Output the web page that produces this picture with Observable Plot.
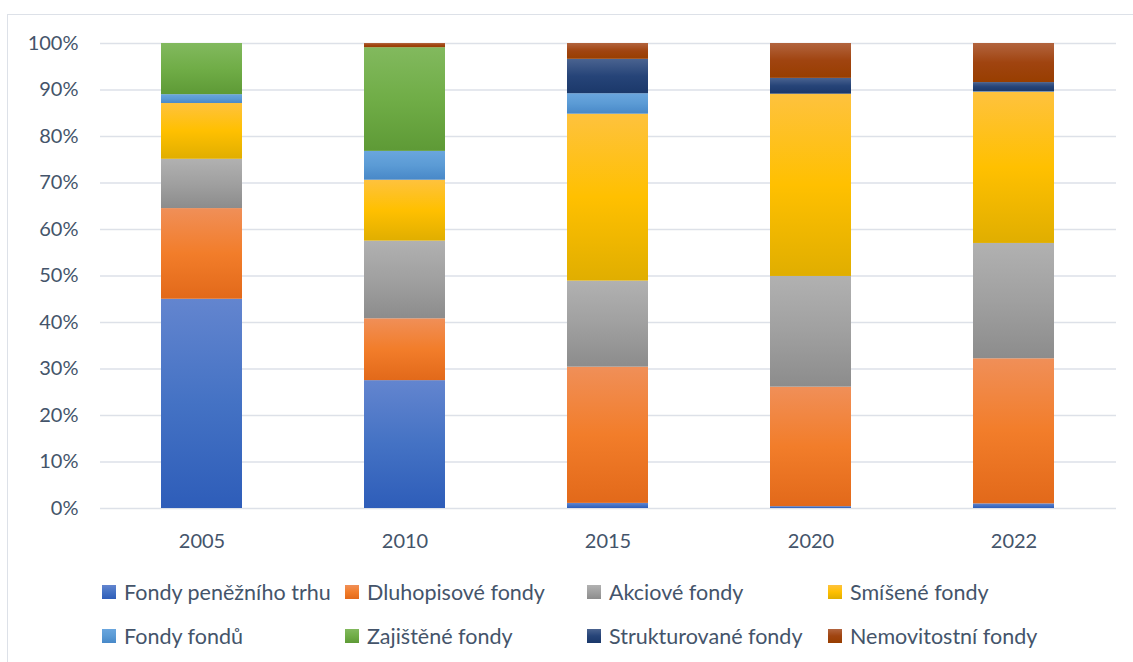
<!DOCTYPE html>
<html>
<head>
<meta charset="utf-8">
<script src="https://cdn.jsdelivr.net/npm/d3@7"></script>
<script src="https://cdn.jsdelivr.net/npm/@observablehq/plot@0.6"></script>
<style>
  html, body { margin: 0; padding: 0; background: #ffffff; }
  body { width: 1133px; height: 662px; overflow: hidden; position: relative; font-family: Lato, sans-serif; }
  #frame { position: absolute; left: 7px; top: 14px; width: 1200px; height: 700px; border: 1.5px solid #dde1e8; box-sizing: border-box; }
  #chart { position: absolute; left: 0; top: 0; }
  .legend-item { position: absolute; display: flex; align-items: center; height: 30px; font-family: Lato, sans-serif; font-size: 21.5px; color: #44546a; white-space: nowrap; }
  .swatch { width: 14px; height: 14px; margin-right: 8px; flex: none; }
</style>
</head>
<body>
<div id="frame"></div>
<div id="chart"></div>
<div id="legend"></div>
<script>
// ---- data ----
const years = ["2005", "2010", "2015", "2020", "2022"];
const funds = [
  "Fondy peněžního trhu", "Dluhopisové fondy", "Akciové fondy", "Smíšené fondy",
  "Fondy fondů", "Zajištěné fondy", "Strukturované fondy", "Nemovitostní fondy"
];
// shares in % per year (2005, 2010, 2015, 2020, 2022)
const penezniTrh     = [45.0, 27.5,  1.1,  0.4,  1.0];
const dluhopisove    = [19.5, 13.3, 29.3, 25.7, 31.2];
const akciove        = [10.6, 16.7, 18.5, 23.8, 24.8];
const smisene        = [12.0, 13.1, 35.9, 39.2, 32.5];
const fondyFondu     = [ 1.9,  6.2,  4.4,  0.0,  0.1];
const zajistene      = [11.0, 22.3,  0.0,  0.0,  0.0];
const strukturovane  = [ 0.0,  0.0,  7.4,  3.4,  2.0];
const nemovitostni   = [ 0.0,  0.9,  3.4,  7.5,  8.4];
const yTicks = [0, 0.1, 0.2, 0.3, 0.4, 0.5, 0.6, 0.7, 0.8, 0.9, 1.0];

const seriesValues = [penezniTrh, dluhopisove, akciove, smisene, fondyFondu, zajistene, strukturovane, nemovitostni];
// gradient stops (top, middle, bottom) per series
const gradientColors = [
  ["#6385cf", "#4472c4", "#2e5db9"],
  ["#f08f58", "#f27d2a", "#e2691a"],
  ["#b1b1b1", "#a0a0a0", "#8c8c8c"],
  ["#fec23e", "#ffc000", "#e0ae00"],
  ["#6aa6de", "#5b9bd5", "#4888c8"],
  ["#82b95e", "#70ad47", "#5e9a36"],
  ["#4a6390", "#264478", "#1b386a"],
  ["#b2643e", "#a04410", "#983e00"]
];

const rows = [];
years.forEach((yr, j) => {
  funds.forEach((f, i) => {
    rows.push({year: yr, fund: f, value: seriesValues[i][j]});
  });
});

const gradIds = funds.map((f, i) => `grad${i}`);

const chart = Plot.plot({
  width: 1133,
  height: 560,
  marginLeft: 100,
  marginRight: 17,
  marginTop: 43,
  marginBottom: 52,
  style: {fontFamily: "Lato, sans-serif", fontSize: "20px", color: "#44546a", background: "transparent", overflow: "visible"},
  x: {domain: years, paddingInner: 0.6, paddingOuter: 0.3, label: null, tickSize: 0, tickPadding: 25},
  y: {domain: [0, 1], ticks: yTicks, tickFormat: d3.format(".0%"), label: null, tickSize: 0, tickPadding: 22},
  color: {domain: funds, range: gradIds.map(id => `url(#${id})`)},
  marks: [
    Plot.ruleY(yTicks, {stroke: "#dde1e8", strokeWidth: 1.5}),
    Plot.barY(rows, Plot.stackY({x: "year", y: "value", fill: "fund", offset: "normalize", order: null}))
  ]
});

// gradient defs
const svgNS = "http://www.w3.org/2000/svg";
const defs = document.createElementNS(svgNS, "defs");
gradientColors.forEach((stops, i) => {
  const lg = document.createElementNS(svgNS, "linearGradient");
  lg.setAttribute("id", gradIds[i]);
  lg.setAttribute("x1", "0"); lg.setAttribute("y1", "0");
  lg.setAttribute("x2", "0"); lg.setAttribute("y2", "1");
  [[0, stops[0]], [0.5, stops[1]], [1, stops[2]]].forEach(([o, c]) => {
    const s = document.createElementNS(svgNS, "stop");
    s.setAttribute("offset", o);
    s.setAttribute("stop-color", c);
    lg.appendChild(s);
  });
  defs.appendChild(lg);
});
chart.insertBefore(defs, chart.firstChild);
document.getElementById("chart").appendChild(chart);

// legend
const legend = document.getElementById("legend");
const colX = [102, 345, 587, 828];
const rowY = [577, 621];
funds.forEach((f, i) => {
  const item = document.createElement("div");
  item.className = "legend-item";
  item.style.left = colX[i % 4] + "px";
  item.style.top = rowY[Math.floor(i / 4)] + "px";
  const sw = document.createElement("div");
  sw.className = "swatch";
  const g = gradientColors[i];
  sw.style.background = `linear-gradient(to bottom, ${g[0]}, ${g[1]} 50%, ${g[2]})`;
  const label = document.createElement("span");
  label.textContent = f;
  item.appendChild(sw);
  item.appendChild(label);
  legend.appendChild(item);
});
</script>
</body>
</html>
